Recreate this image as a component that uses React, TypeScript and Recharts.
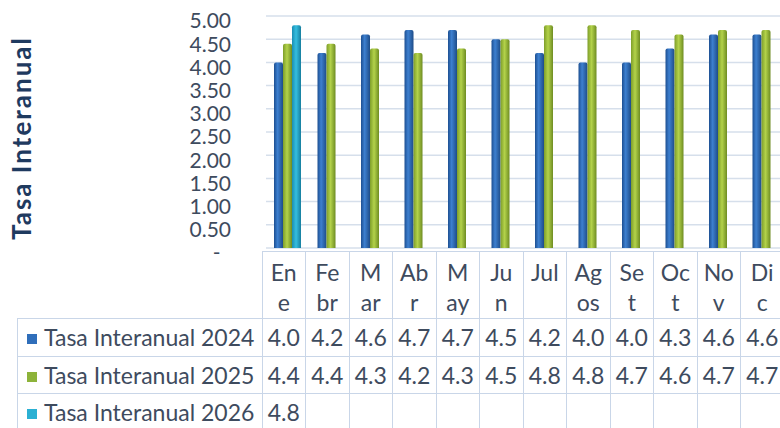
import React from "react";
import { BarChart, Bar, XAxis, YAxis, CartesianGrid } from "recharts";

const months = ["Ene", "Febr", "Mar", "Abr", "May", "Jun", "Jul", "Agos", "Set", "Oct", "Nov", "Dic"];
// how the month names wrap in the data table header
const monthLines = [
  ["En", "e"], ["Fe", "br"], ["M", "ar"], ["Ab", "r"], ["M", "ay"], ["Ju", "n"],
  ["Jul", ""], ["Ag", "os"], ["Se", "t"], ["Oc", "t"], ["No", "v"], ["Di", "c"],
];
const tasa2024 = [4.0, 4.2, 4.6, 4.7, 4.7, 4.5, 4.2, 4.0, 4.0, 4.3, 4.6, 4.6];
const tasa2025 = [4.4, 4.4, 4.3, 4.2, 4.3, 4.5, 4.8, 4.8, 4.7, 4.6, 4.7, 4.7];
const tasa2026 = [4.8];
const yTicks = [0, 0.5, 1, 1.5, 2, 2.5, 3, 3.5, 4, 4.5, 5];

const series = [
  { key: "t2024", name: "Tasa Interanual 2024", values: tasa2024, color: "#2F6EBA", grad: "gBlue" },
  { key: "t2025", name: "Tasa Interanual 2025", values: tasa2025, color: "#8DB33A", grad: "gGreen" },
  { key: "t2026", name: "Tasa Interanual 2026", values: tasa2026, color: "#2BB0D3", grad: "gCyan" },
];

const data = months.map((m, i) => ({
  month: m,
  t2024: tasa2024[i],
  t2025: tasa2025[i],
  t2026: tasa2026[i],
}));

const FONT = "Lato, 'Noto Sans', sans-serif";
const TEXT = "#3E4B5E";
const LINE = "#C9D6E8";
const COL_W = 43.5;

export default function App() {
  const cell: React.CSSProperties = {
    width: COL_W,
    minWidth: COL_W,
    maxWidth: COL_W,
    border: `1.5px solid ${LINE}`,
    textAlign: "center",
    padding: 0,
    boxSizing: "border-box",
  };
  return (
    <div
      style={{
        position: "absolute",
        left: 0,
        top: 0,
        width: 780,
        height: 428,
        overflow: "hidden",
        background: "#fff",
        fontFamily: FONT,
        color: TEXT,
      }}
    >
      <div style={{ position: "absolute", left: 0, top: 0 }}>
        <BarChart
          width={788}
          height={266}
          data={data}
          margin={{ top: 16, right: 0, bottom: 18, left: 0 }}
          barSize={9}
          barGap={0}
        >
          <defs>
            <linearGradient id="gBlue" x1="0" y1="0" x2="1" y2="0">
              <stop offset="0%" stopColor="#1D4F91" />
              <stop offset="40%" stopColor="#3D80D0" />
              <stop offset="100%" stopColor="#1E4C88" />
            </linearGradient>
            <linearGradient id="gGreen" x1="0" y1="0" x2="1" y2="0">
              <stop offset="0%" stopColor="#7E9E2A" />
              <stop offset="45%" stopColor="#B3D24A" />
              <stop offset="100%" stopColor="#6E8C22" />
            </linearGradient>
            <linearGradient id="gCyan" x1="0" y1="0" x2="1" y2="0">
              <stop offset="0%" stopColor="#1A8DB3" />
              <stop offset="45%" stopColor="#35BEE0" />
              <stop offset="100%" stopColor="#167E9F" />
            </linearGradient>
          </defs>
          <CartesianGrid vertical={false} stroke="#D6DFEB" strokeWidth={1.5} />
          <XAxis dataKey="month" hide />
          <YAxis
            width={266}
            domain={[0, 5]}
            ticks={yTicks}
            interval={0}
            axisLine={false}
            tickLine={false}
            tickSize={0}
            tickMargin={35}
            tick={{ fill: TEXT, fontSize: 21, fontFamily: FONT, dy: 5 }}
            tickFormatter={(v: number) => (v === 0 ? "-\u2002" : v.toFixed(2))}
          />
          {series.map((s) => (
            <Bar
              key={s.key}
              dataKey={s.key}
              name={s.name}
              fill={`url(#${s.grad})`}
              radius={[2, 2, 0, 0]}
              isAnimationActive={false}
            />
          ))}
        </BarChart>
      </div>

      <svg width={50} height={260} style={{ position: "absolute", left: 0, top: 0 }}>
        <text
          x={31}
          y={138}
          transform="rotate(-90 31 138)"
          textAnchor="middle"
          fill="#1F3A5F"
          fontSize={26}
          fontWeight={700}
          fontFamily={FONT}
          letterSpacing={2}
        >
          Tasa Interanual
        </text>
      </svg>

      <table
        style={{
          position: "absolute",
          left: 17,
          top: 251,
          borderCollapse: "collapse",
          tableLayout: "fixed",
          fontFamily: FONT,
          fontSize: 23,
          color: TEXT,
        }}
      >
        <tbody>
          <tr style={{ height: 67 }}>
            <td style={{ width: 244, minWidth: 244, padding: 0, border: "none", borderRight: `1.5px solid ${LINE}` }} />
            {monthLines.map((l, i) => (
              <td key={i} style={{ ...cell, lineHeight: "30px", verticalAlign: "middle", paddingTop: 4 }}>
                <div>{l[0]}</div>
                <div>{l[1] || "\u00a0"}</div>
              </td>
            ))}
          </tr>
          {series.map((s) => (
            <tr key={s.key} style={{ height: 37.5 }}>
              <td
                style={{
                  border: `1.5px solid ${LINE}`,
                  padding: "0 0 0 9px",
                  whiteSpace: "nowrap",
                  boxSizing: "border-box",
                  lineHeight: "34px",
                }}
              >
                <span
                  style={{
                    display: "inline-block",
                    width: 10,
                    height: 10,
                    background: s.color,
                    marginRight: 7,
                    verticalAlign: "2px",
                  }}
                />
                {s.name}
              </td>
              {months.map((m, i) => (
                <td key={m} style={{ ...cell, lineHeight: "34px" }}>
                  {s.values[i] !== undefined ? s.values[i].toFixed(1) : ""}
                </td>
              ))}
            </tr>
          ))}
        </tbody>
      </table>
    </div>
  );
}
